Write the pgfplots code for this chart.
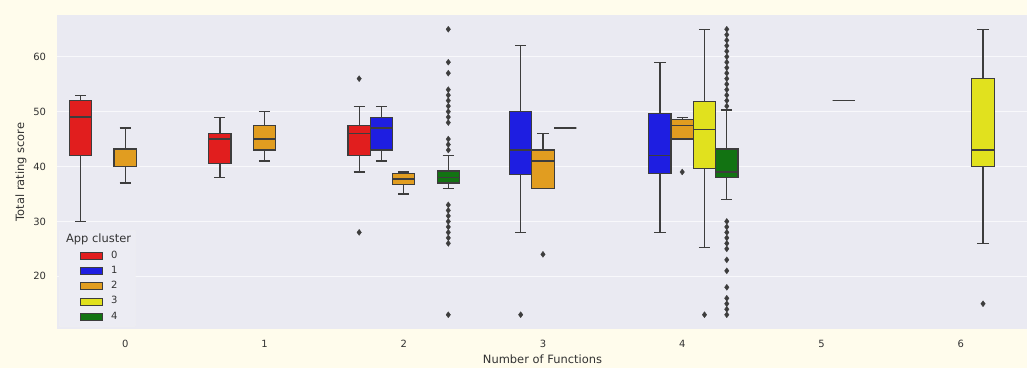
\documentclass[border=0pt]{standalone}
\usepackage{fontspec}
\setmainfont{DejaVu Sans}
\usepackage{pgfplots}
\pgfplotsset{compat=1.18}
\definecolor{cream}{RGB}{255,252,236}
\definecolor{axbg}{RGB}{234,234,242}
\definecolor{edgec}{RGB}{61,61,61}
\definecolor{txt}{RGB}{50,50,50}
\definecolor{cred}{RGB}{225,30,30}
\definecolor{cblue}{RGB}{30,30,225}
\definecolor{corange}{RGB}{225,157,32}
\definecolor{cyellow}{RGB}{225,225,30}
\definecolor{cgreen}{RGB}{18,115,18}
\pgfplotsset{
  bxline/.style={forget plot, draw=edgec, line width=1.2bp, mark=none},
  outl/.style={forget plot, only marks, mark=diamond*, mark size=3bp,
    mark options={fill=edgec, draw=edgec, line width=0.3bp}},
}
% \bx{position}{lower whisker}{lower quartile}{median}{upper quartile}{upper whisker}{colour}
\newcommand\bx[7]{%
  \pgfmathsetmacro\xl{#1-0.08}\pgfmathsetmacro\xr{#1+0.08}%
  \pgfmathsetmacro\cl{#1-0.04}\pgfmathsetmacro\cR{#1+0.04}%
  \edef\doit{%
    \noexpand\addplot[bxline] coordinates {(#1,#2) (#1,#3)};
    \noexpand\addplot[bxline] coordinates {(#1,#5) (#1,#6)};
    \noexpand\addplot[bxline] coordinates {(\cl,#2) (\cR,#2)};
    \noexpand\addplot[bxline] coordinates {(\cl,#6) (\cR,#6)};
    \noexpand\addplot[bxline, fill=#7] coordinates {(\xl,#3) (\xr,#3) (\xr,#5) (\xl,#5)} -- cycle;
    \noexpand\addplot[bxline, line width=1.4bp] coordinates {(\xl,#4) (\xr,#4)};
  }\doit}
\begin{document}
\begin{tikzpicture}
\fill[cream] (-57bp,-39bp) rectangle (970bp,329bp);
\begin{axis}[
  at={(0,0)}, anchor=south west, scale only axis,
  width=970bp, height=314bp,
  xmin=-0.49, xmax=6.476, ymin=10.4, ymax=67.6,
  xtick={0,1,2,3,4,5,6}, ytick={20,30,40,50,60},
  axis line style={draw=none}, tick style={draw=none}, major tick length=0pt,
  axis background/.style={fill=axbg},
  ymajorgrids, grid style={white, line width=0.8bp, opacity=0.7},
  /pgf/number format/assume math mode=true,
  ticklabel style={font=\fontsize{10}{12}\selectfont, text=txt},
  xticklabel style={yshift=-7.5bp},
  yticklabel style={xshift=-7.5bp},
  xlabel={Number of Functions}, ylabel={Total rating score},
  every axis x label/.style={at={(axis description cs:0.5005,-0.0955)}, anchor=center,
    font=\fontsize{11.5}{13}\selectfont, text=txt},
  every axis y label/.style={at={(axis description cs:-0.0371,0.5)}, anchor=center, rotate=90,
    font=\fontsize{11.5}{13}\selectfont, text=txt},
  legend image code/.code={\path (0bp,0bp) (47bp,0bp); \draw[#1, sharp corners, draw=edgec, line width=0.8bp] (17bp,-3.5bp) rectangle (39bp,3.5bp);},
  legend cell align=left,
  legend style={at={(axis description cs:0.002,0.0064)}, anchor=south west,
    fill={rgb,255:red,236;green,236;blue,243}, draw=white!88!gray, rounded corners=2bp,
    font=\fontsize{10}{12}\selectfont, text=txt,
    column sep=0bp, row sep=4.3bp, inner xsep=4bp, inner ysep=4.5bp,
    nodes={inner sep=0.5bp, text height=7.5bp, text depth=2.5bp}},
]
\addlegendimage{empty legend}
\addlegendentry{\hspace{-45bp}\fontsize{11.5}{13}\selectfont App cluster}
\addlegendimage{fill=cred}\addlegendentry{0}
\addlegendimage{fill=cblue}\addlegendentry{1}
\addlegendimage{fill=corange}\addlegendentry{2}
\addlegendimage{fill=cyellow}\addlegendentry{3}
\addlegendimage{fill=cgreen}\addlegendentry{4}

% ---- cluster 0 (red) ----
\bx{-0.32}{30}{42}{49}{52}{53}{cred}
\bx{0.68}{38}{40.5}{45}{46}{49}{cred}
\bx{1.68}{39}{42}{46}{47.5}{51}{cred}
\addplot[outl] coordinates {(1.68,56) (1.68,28)};

% ---- cluster 1 (blue) ----
\bx{1.84}{41}{43}{47}{49}{51}{cblue}
\bx{2.84}{28}{38.5}{43}{50}{62}{cblue}
\addplot[outl] coordinates {(2.84,13)};
\bx{3.84}{28}{38.7}{42}{49.6}{59}{cblue}

% ---- cluster 2 (orange) ----
\bx{0}{37}{40}{40}{43.2}{47}{corange}
\bx{1}{41}{43}{45}{47.5}{50}{corange}
\bx{2}{35}{36.7}{37.7}{38.7}{39}{corange}
\bx{3}{36}{36}{41}{43}{46}{corange}
\addplot[outl] coordinates {(3,24)};
\bx{4}{45}{45}{47.5}{48.5}{49}{corange}
\addplot[outl] coordinates {(4,39)};

% ---- cluster 3 (yellow) ----
\bx{3.16}{47}{47}{47}{47}{47}{cyellow}
\bx{4.16}{25.3}{39.7}{46.7}{51.8}{65}{cyellow}
\addplot[outl] coordinates {(4.16,13)};
\bx{5.16}{52}{52}{52}{52}{52}{cyellow}
\bx{6.16}{26}{40}{43}{56}{65}{cyellow}
\addplot[outl] coordinates {(6.16,15)};

% ---- cluster 4 (green) ----
\bx{2.32}{36}{37}{38}{39.2}{42}{cgreen}
\addplot[outl] coordinates {(2.32,65) (2.32,59) (2.32,57) (2.32,54) (2.32,53) (2.32,52) (2.32,51) (2.32,50) (2.32,49) (2.32,48) (2.32,45) (2.32,44) (2.32,43) (2.32,33) (2.32,32) (2.32,31) (2.32,30) (2.32,29) (2.32,28) (2.32,27) (2.32,26) (2.32,13)};
\bx{4.32}{34}{38}{39}{43.2}{50.3}{cgreen}
\addplot[outl] coordinates {(4.32,65) (4.32,64) (4.32,63) (4.32,62) (4.32,61) (4.32,60) (4.32,59) (4.32,58) (4.32,57) (4.32,56) (4.32,55) (4.32,54) (4.32,53) (4.32,52) (4.32,51) (4.32,30) (4.32,29) (4.32,28) (4.32,27) (4.32,26) (4.32,25) (4.32,23) (4.32,21) (4.32,18) (4.32,16) (4.32,15) (4.32,14) (4.32,13)};
\end{axis}
\pgfresetboundingbox
\path[use as bounding box] (-57bp,-39bp) rectangle (970bp,329bp);
\end{tikzpicture}
\end{document}
